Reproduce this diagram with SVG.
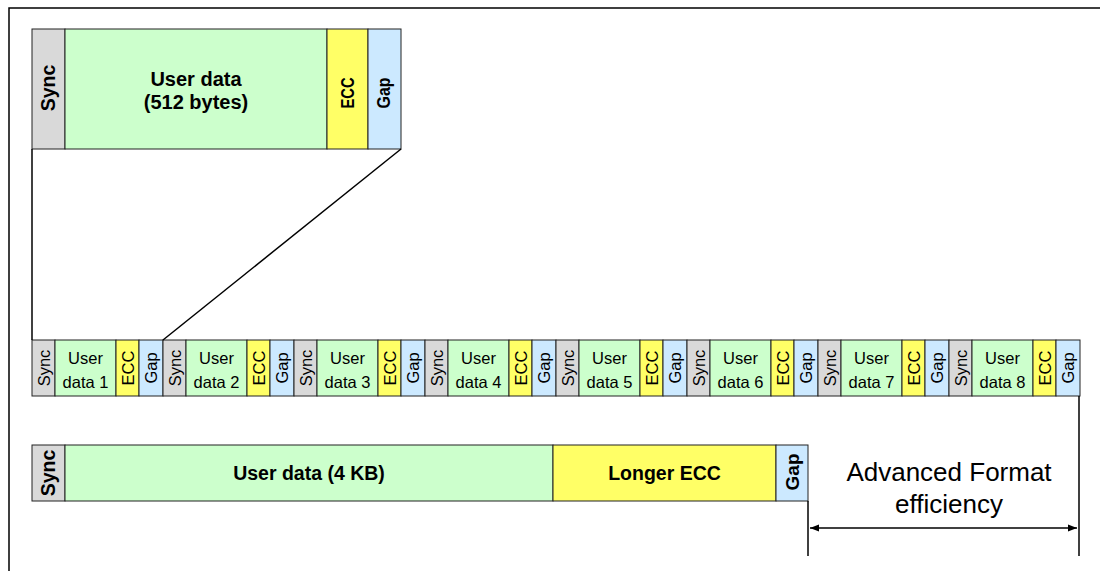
<svg xmlns="http://www.w3.org/2000/svg" width="1100" height="571" viewBox="0 0 1100 571">
<defs>
<style>
.sync{fill:#d9d9d9;stroke:#222;stroke-width:1}
.user{fill:#ccffcc;stroke:#222;stroke-width:1}
.ecc{fill:#ffff66;stroke:#222;stroke-width:1}
.gap{fill:#cce9ff;stroke:#222;stroke-width:1}
.b{font-family:"Liberation Sans",Arial,sans-serif;font-weight:bold;fill:#000;text-anchor:middle}
.r{font-family:"Liberation Sans",Arial,sans-serif;fill:#000;text-anchor:middle}
.ln{stroke:#000;stroke-width:1.5;fill:none}
</style>
<marker id="ah" viewBox="0 0 10 10" refX="10" refY="5" markerWidth="9" markerHeight="9" orient="auto-start-reverse" markerUnits="userSpaceOnUse">
<path d="M0,1 L10,5 L0,9 z" fill="#000"/>
</marker>
<g id="seg">
<rect class="sync" x="0" y="0" width="23" height="56"/>
<rect class="user" x="23" y="0" width="61" height="56"/>
<rect class="ecc" x="84" y="0" width="23" height="56"/>
<rect class="gap" x="107" y="0" width="24" height="56"/>
<text class="r" font-size="16.5" transform="translate(17.5,28) rotate(-90)">Sync</text>
<text class="r" font-size="16.5" transform="translate(101.5,28) rotate(-90)">ECC</text>
<text class="r" font-size="16.5" transform="translate(125,28) rotate(-90)">Gap</text>
</g>
</defs>
<rect width="1100" height="571" fill="#fff"/>
<path class="ln" d="M9,571 L9,8 L1100,8"/>

<g id="sector512">
<rect class="sync" x="32" y="29" width="33" height="120"/>
<rect class="user" x="65" y="29" width="262" height="120"/>
<rect class="ecc" x="327" y="29" width="41" height="120"/>
<rect class="gap" x="368" y="29" width="33" height="120"/>
<text class="b" font-size="19.5" transform="translate(55,88) rotate(-90)">Sync</text>
<text class="b" font-size="20" x="196" y="86">User data</text>
<text class="b" font-size="20" x="196" y="109">(512 bytes)</text>
<text class="b" font-size="18" textLength="31" lengthAdjust="spacingAndGlyphs" transform="translate(354,93) rotate(-90)">ECC</text>
<text class="b" font-size="18" textLength="31" lengthAdjust="spacingAndGlyphs" transform="translate(390,93) rotate(-90)">Gap</text>
</g>

<g id="s1"><use href="#seg" x="32" y="340"/><text class="r" font-size="16.5" x="85.5" y="364">User</text><text class="r" font-size="16.5" x="85.5" y="388">data 1</text></g>
<g id="s2"><use href="#seg" x="163" y="340"/><text class="r" font-size="16.5" x="216.5" y="364">User</text><text class="r" font-size="16.5" x="216.5" y="388">data 2</text></g>
<g id="s3"><use href="#seg" x="294" y="340"/><text class="r" font-size="16.5" x="347.5" y="364">User</text><text class="r" font-size="16.5" x="347.5" y="388">data 3</text></g>
<g id="s4"><use href="#seg" x="425" y="340"/><text class="r" font-size="16.5" x="478.5" y="364">User</text><text class="r" font-size="16.5" x="478.5" y="388">data 4</text></g>
<g id="s5"><use href="#seg" x="556" y="340"/><text class="r" font-size="16.5" x="609.5" y="364">User</text><text class="r" font-size="16.5" x="609.5" y="388">data 5</text></g>
<g id="s6"><use href="#seg" x="687" y="340"/><text class="r" font-size="16.5" x="740.5" y="364">User</text><text class="r" font-size="16.5" x="740.5" y="388">data 6</text></g>
<g id="s7"><use href="#seg" x="818" y="340"/><text class="r" font-size="16.5" x="871.5" y="364">User</text><text class="r" font-size="16.5" x="871.5" y="388">data 7</text></g>
<g id="s8"><use href="#seg" x="949" y="340"/><text class="r" font-size="16.5" x="1002.5" y="364">User</text><text class="r" font-size="16.5" x="1002.5" y="388">data 8</text></g>

<g id="sector4k">
<rect class="sync" x="32" y="445" width="33" height="56"/>
<rect class="user" x="65" y="445" width="488" height="56"/>
<rect class="ecc" x="553" y="445" width="223" height="56"/>
<rect class="gap" x="776" y="445" width="32" height="56"/>
<text class="b" font-size="19.5" transform="translate(55,473) rotate(-90)">Sync</text>
<text class="b" font-size="19.5" x="309" y="480">User data (4 KB)</text>
<text class="b" font-size="19.5" x="664.5" y="480">Longer ECC</text>
<text class="b" font-size="19" transform="translate(799,472) rotate(-90)">Gap</text>
</g>

<g id="label">
<text class="r" font-size="26" x="949" y="481">Advanced Format</text>
<text class="r" font-size="26" x="949" y="513">efficiency</text>
</g>

<g id="connectors">
<path class="ln" d="M32,149 L32,340"/>
<path class="ln" d="M401,149 L163,340"/>
<path class="ln" d="M808,501 L808,556"/>
<path class="ln" d="M1079,396 L1079,556"/>
<path class="ln" d="M810,528 L1077,528" marker-start="url(#ah)" marker-end="url(#ah)"/>
</g>
</svg>
